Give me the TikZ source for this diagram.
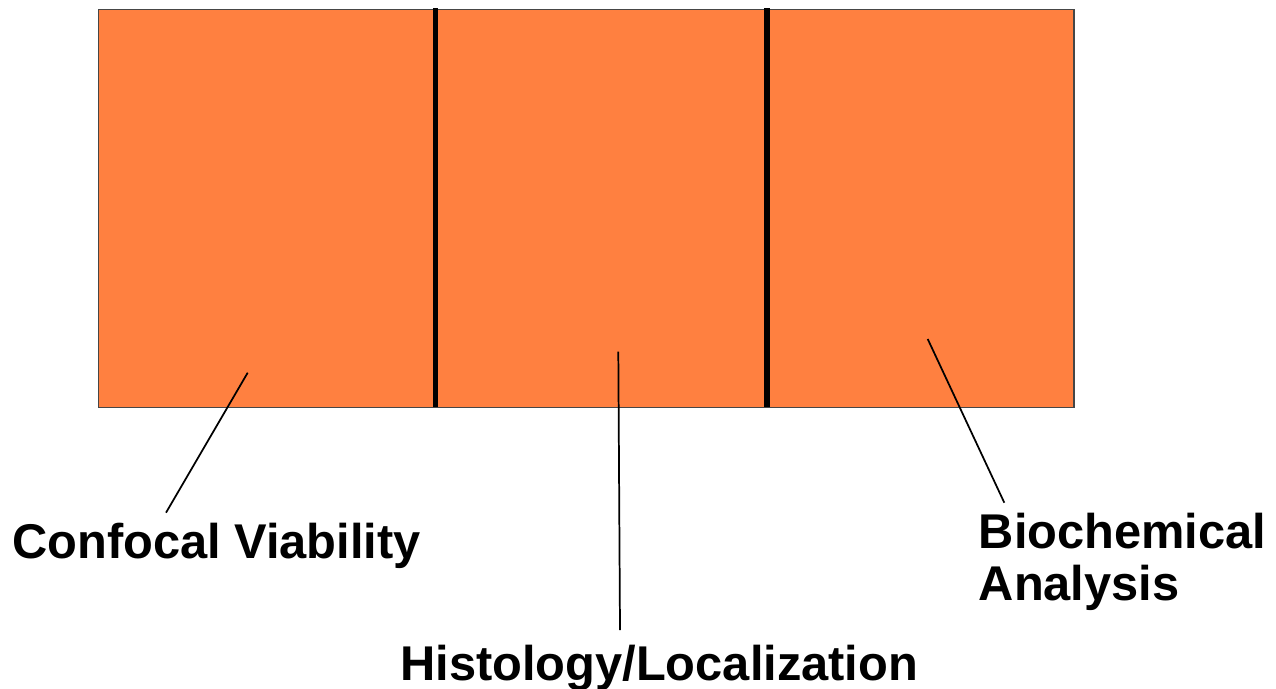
\documentclass[tikz,border=0pt]{standalone}
\usepackage{fontspec}
\setmainfont{Liberation Sans}
\definecolor{boxorange}{RGB}{255,128,64}
\definecolor{boxedge}{RGB}{70,70,70}
\tikzset{
  panel/.style={fill=boxorange, draw=boxedge, line width=0.9pt},
  divider/.style={line width=4.1pt, black},
  leader/.style={line width=1.3pt, black},
  lab/.style={anchor=base west, inner sep=0pt, font=\fontsize{36.6}{39}\selectfont\bfseries, align=left}
}
\begin{document}
\begin{tikzpicture}[x=0.75pt, y=-0.75pt]
\useasboundingbox (0,0) rectangle (1276,688);
\fill[white] (0,0) rectangle (1276,688);
\node[panel, minimum width=975.3*0.75pt, minimum height=398.2*0.75pt, inner sep=0pt] (box) at (586.35,407.6/2+4.8) {};
\coordinate (d1t) at (435.3,8.5);
\coordinate (d1b) at (435.3,406.7);
\coordinate (d2t) at (767,8.5);
\coordinate (d2b) at (767,406.7);
\draw[divider] (d1t) -- (d1b);
\draw[divider] (d2t) -- (d2b);
\node[lab] (conf) at (12,558) {Confocal Viability};
\node[lab] (hist) at (400,680) {Histology/Localization};
\node[lab] (bio) at (978.5,600) {Biochemical\\Analysis};
\coordinate (p1) at (247.7,372.7);
\coordinate (q1) at (166,512.7);
\coordinate (p2) at (618.3,351.7);
\coordinate (q2) at (620,630);
\coordinate (p3) at (927.7,339);
\coordinate (q3) at (1004.3,502.7);
\draw[leader] (q1) -- (p1);
\draw[leader] (q2) -- (p2);
\draw[leader] (q3) -- (p3);
\end{tikzpicture}
\end{document}
